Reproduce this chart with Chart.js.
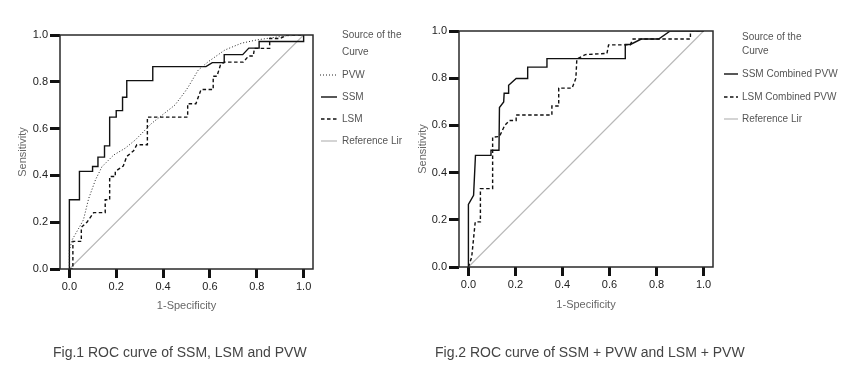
<!DOCTYPE html>
<html><head><meta charset="utf-8">
<script src="https://cdn.jsdelivr.net/npm/chart.js@4.4.1/dist/chart.umd.min.js"></script>
<style>
html,body{margin:0;padding:0;background:#fff;}
body{width:850px;height:381px;position:relative;overflow:hidden;font-family:"Liberation Sans",Arial,sans-serif;}
canvas{position:absolute;top:0;}
.t{position:absolute;white-space:nowrap;line-height:12px;font-size:10px;color:#555;}
.cap{position:absolute;white-space:nowrap;line-height:16px;font-size:14px;color:#444;}
.sw{position:absolute;}
</style></head><body>
<canvas id="ch1" width="425" height="381" style="left:0"></canvas>
<canvas id="ch2" width="450" height="381" style="left:400px"></canvas>

<div class="t" style="left:342px;top:29px">Source of the</div>
<div class="t" style="left:342px;top:46px">Curve</div>
<svg class="sw" style="left:320px;top:73px" width="17" height="4"><line x1="0" y1="2" x2="17" y2="2" stroke="#222" stroke-width="1" stroke-dasharray="1,2"/></svg>
<div class="t" style="left:342px;top:69px">PVW</div>
<svg class="sw" style="left:321px;top:95px" width="16" height="4"><line x1="0" y1="2" x2="16" y2="2" stroke="#111" stroke-width="1.4"/></svg>
<div class="t" style="left:342px;top:91px">SSM</div>
<svg class="sw" style="left:321px;top:117px" width="16" height="4"><line x1="0" y1="2" x2="16" y2="2" stroke="#111" stroke-width="1.4" stroke-dasharray="3.5,2.5"/></svg>
<div class="t" style="left:342px;top:113px">LSM</div>
<svg class="sw" style="left:321px;top:139px" width="16" height="4"><line x1="0" y1="2" x2="16" y2="2" stroke="#b8b8b8" stroke-width="1.2"/></svg>
<div class="t" style="left:342px;top:135px">Reference Lir</div>

<div class="t" style="left:742px;top:31px">Source of the</div>
<div class="t" style="left:742px;top:45px">Curve</div>
<svg class="sw" style="left:724px;top:72px" width="14" height="4"><line x1="0" y1="2" x2="14" y2="2" stroke="#111" stroke-width="1.4"/></svg>
<div class="t" style="left:742px;top:68px">SSM Combined PVW</div>
<svg class="sw" style="left:724px;top:95px" width="14" height="4"><line x1="0" y1="2" x2="14" y2="2" stroke="#111" stroke-width="1.4" stroke-dasharray="3.5,2.5"/></svg>
<div class="t" style="left:742px;top:91px">LSM Combined PVW</div>
<svg class="sw" style="left:724px;top:117px" width="14" height="4"><line x1="0" y1="2" x2="14" y2="2" stroke="#b8b8b8" stroke-width="1.2"/></svg>
<div class="t" style="left:742px;top:113px">Reference Lir</div>

<div class="cap" style="left:53px;top:344px">Fig.1 ROC curve of SSM, LSM and PVW</div>
<div class="cap" style="left:435px;top:344px">Fig.2 ROC curve of SSM + PVW and LSM + PVW</div>

<script>
// ---- tick labels ----
const xTicks = [0, 0.2, 0.4, 0.6, 0.8, 1.0];
const yTicks = [0, 0.2, 0.4, 0.6, 0.8, 1.0];

// ---- Fig.1 series (1-Specificity, Sensitivity) ----
const fig1SsmX = [0,0,0.043,0.043,0.099,0.099,0.122,0.122,0.150,0.150,0.172,0.172,0.200,0.200,0.227,0.227,0.245,0.245,0.356,0.356,0.583,0.610,0.661,0.661,0.740,0.766,0.810,0.810,1.0,1.0];
const fig1SsmY = [0,0.296,0.296,0.417,0.417,0.438,0.438,0.478,0.478,0.526,0.526,0.649,0.649,0.677,0.677,0.734,0.734,0.805,0.805,0.865,0.865,0.882,0.882,0.916,0.916,0.944,0.944,0.972,0.972,1.0];

const fig1LsmX = [0,0.015,0.015,0.051,0.051,0.075,0.104,0.153,0.153,0.172,0.172,0.196,0.196,0.230,0.245,0.274,0.288,0.333,0.333,0.505,0.505,0.540,0.562,0.614,0.614,0.630,0.645,0.661,0.742,0.765,0.785,0.790,0.855,0.855,0.900,0.930,1.0];
const fig1LsmY = [0,0,0.118,0.118,0.178,0.200,0.241,0.241,0.296,0.296,0.395,0.395,0.417,0.440,0.481,0.505,0.531,0.531,0.649,0.649,0.706,0.706,0.767,0.767,0.824,0.824,0.872,0.884,0.884,0.910,0.910,0.943,0.943,0.985,0.985,1.0,1.0];

const fig1PvwX = [0,0,0.012,0.040,0.060,0.082,0.111,0.139,0.189,0.238,0.281,0.352,0.423,0.451,0.494,0.508,0.550,0.593,0.664,0.735,0.800,0.919,1.0];
const fig1PvwY = [0,0.080,0.125,0.174,0.210,0.300,0.380,0.437,0.487,0.516,0.551,0.623,0.679,0.701,0.758,0.779,0.850,0.886,0.936,0.965,0.979,0.996,1.0];

// ---- Fig.2 series ----
const fig2SsmX = [0,0,0.022,0.030,0.096,0.096,0.130,0.132,0.150,0.152,0.171,0.171,0.203,0.252,0.252,0.334,0.334,0.667,0.667,0.689,0.735,0.809,0.858,1.0];
const fig2SsmY = [0,0.265,0.304,0.473,0.473,0.495,0.495,0.676,0.699,0.736,0.736,0.770,0.799,0.799,0.847,0.847,0.883,0.883,0.943,0.943,0.966,0.966,1.0,1.0];

const fig2LsmX = [0,0.014,0.029,0.051,0.051,0.103,0.103,0.132,0.155,0.175,0.203,0.203,0.355,0.355,0.384,0.384,0.441,0.457,0.461,0.497,0.589,0.596,0.688,0.700,0.944,0.944,1.0];
const fig2LsmY = [0,0.042,0.191,0.191,0.332,0.332,0.550,0.553,0.601,0.621,0.621,0.644,0.644,0.682,0.682,0.758,0.758,0.800,0.881,0.900,0.905,0.941,0.941,0.966,0.966,1.0,1.0];

// ---- reference diagonal ----
const refX = [0, 1];
const refY = [0, 1];

const FONT = '"Liberation Sans", Arial, sans-serif';
const pts = (xs, ys) => xs.map((x, i) => ({x, y: ys[i]}));

const framePlugin = {
  id: 'frame',
  afterDatasetsDraw(chart) {
    const {ctx, chartArea: a} = chart;
    ctx.save();
    ctx.strokeStyle = '#2a2a2a';
    ctx.lineWidth = 1.5;
    ctx.strokeRect(a.left, a.top, a.right - a.left, a.bottom - a.top);
    ctx.restore();
  }
};

function ds(label, xs, ys, color, width, dash) {
  return {label, data: pts(xs, ys), showLine: true, borderColor: color, backgroundColor: color,
          borderWidth: width, borderDash: dash, pointRadius: 0, tension: 0, fill: false};
}

function makeChart(id, datasets, pad, yW, xTitlePad) {
  return new Chart(document.getElementById(id), {
    type: 'scatter',
    data: {datasets},
    options: {
      responsive: false, animation: false, devicePixelRatio: 1,
      layout: {padding: pad},
      plugins: {legend: {display: false}, tooltip: {enabled: false}},
      scales: {
        x: {
          type: 'linear', min: -0.04, max: 1.04,
          afterBuildTicks: s => { s.ticks = xTicks.map(v => ({value: v})); },
          afterFit: s => { s.height = 50; },
          grid: {display: true, drawOnChartArea: false, drawTicks: true, tickLength: 9, tickWidth: 3, tickColor: '#111'},
          border: {display: false},
          ticks: {padding: 2, color: '#222', font: {family: FONT, size: 11}, maxRotation: 0, autoSkip: false,
                  callback: v => Number(v).toFixed(1)},
          title: {display: true, text: '1-Specificity', color: '#666', font: {family: FONT, size: 11},
                  padding: {top: 0, bottom: xTitlePad}}
        },
        y: {
          type: 'linear', min: 0, max: 1,
          afterBuildTicks: s => { s.ticks = yTicks.map(v => ({value: v})); },
          afterFit: s => { s.width = yW; },
          grid: {display: true, drawOnChartArea: false, drawTicks: true, tickLength: 10, tickWidth: 3, tickColor: '#111'},
          border: {display: false},
          ticks: {padding: 2, color: '#222', font: {family: FONT, size: 11},
                  callback: v => Number(v).toFixed(1)},
          title: {display: true, text: 'Sensitivity', color: '#666', font: {family: FONT, size: 11},
                  padding: {top: 16, bottom: 0}}
        }
      }
    },
    plugins: [framePlugin]
  });
}

makeChart('ch1', [
  ds('PVW', fig1PvwX, fig1PvwY, '#222', 1, [1, 2]),
  ds('SSM', fig1SsmX, fig1SsmY, '#111', 1.4, []),
  ds('LSM', fig1LsmX, fig1LsmY, '#111', 1.4, [3.5, 2.5]),
  ds('Reference Lir', refX, refY, '#b8b8b8', 1.2, [])
], {left: 0, top: 35, right: 112, bottom: 62}, 60, 6.4);

makeChart('ch2', [
  ds('SSM Combined PVW', fig2SsmX, fig2SsmY, '#111', 1.4, []),
  ds('LSM Combined PVW', fig2LsmX, fig2LsmY, '#111', 1.4, [3.5, 2.5]),
  ds('Reference Lir', refX, refY, '#b8b8b8', 1.2, [])
], {left: 0, top: 31, right: 137, bottom: 64}, 59, 5.4);
</script>
</body></html>
